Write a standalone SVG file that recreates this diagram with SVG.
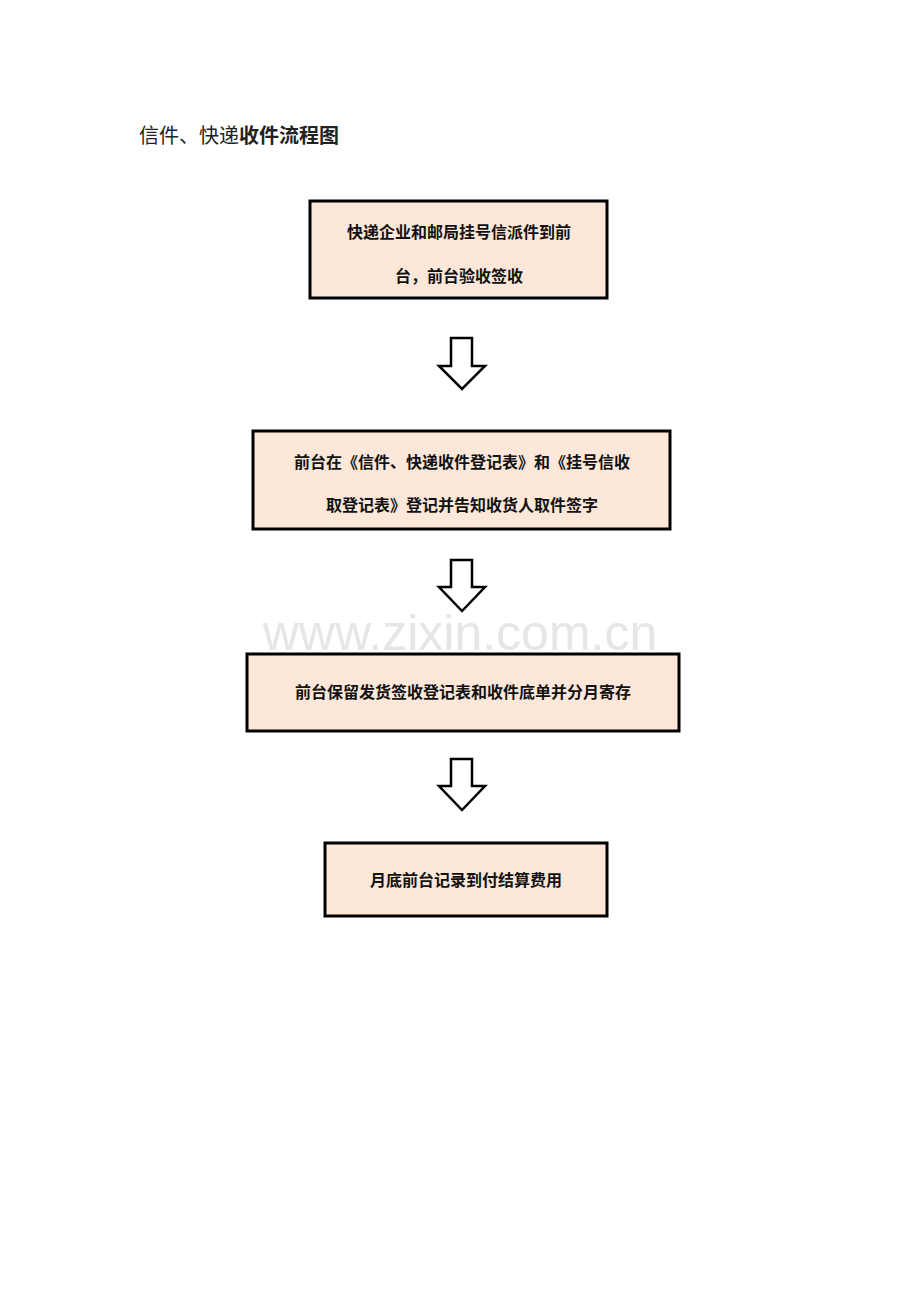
<svg xmlns="http://www.w3.org/2000/svg" width="920" height="1302" viewBox="0 0 920 1302">
<style>
.box{fill:#fde7d8;stroke:#000;stroke-width:3}
.t{font-family:"Noto Sans CJK SC",sans-serif;font-size:16px;font-weight:bold;fill:#111;text-anchor:middle}
.arr{fill:#fff;stroke:#000;stroke-width:2.5;stroke-linejoin:miter}
</style>
<rect width="920" height="1302" fill="#fff"/>
<text x="139" y="143" font-family="Noto Sans CJK SC,sans-serif" font-size="20" fill="#222">信件、快递<tspan font-weight="bold">收件流程图</tspan></text>
<text x="460" y="650" font-family="Liberation Sans,sans-serif" font-size="50" fill="#e6e6e6" text-anchor="middle">www.zixin.com.cn</text>
<g id="n1"><rect class="box" x="310" y="201" width="297" height="97"/>
<text class="t" x="459" y="238">快递企业和邮局挂号信派件到前</text>
<text class="t" x="459" y="282">台，前台验收签收</text></g>
<g id="n2"><rect class="box" x="253" y="431" width="417" height="98"/>
<text class="t" x="462" y="468">前台在《信件、快递收件登记表》和《挂号信收</text>
<text class="t" x="462" y="511">取登记表》登记并告知收货人取件签字</text></g>
<g id="n3"><rect class="box" x="247" y="654" width="432" height="77"/>
<text class="t" x="463" y="698">前台保留发货签收登记表和收件底单并分月寄存</text></g>
<g id="n4"><rect class="box" x="325" y="843" width="282" height="73"/>
<text class="t" x="466" y="886">月底前台记录到付结算费用</text></g>
<g id="connectors">
<path class="arr" d="M451 338H472V366H485L462 389L439 366H451Z"/>
<path class="arr" d="M451 560H472V587H485L462 611L439 587H451Z"/>
<path class="arr" d="M451 759H472V786H485L462 810L439 786H451Z"/>
</g>
</svg>
